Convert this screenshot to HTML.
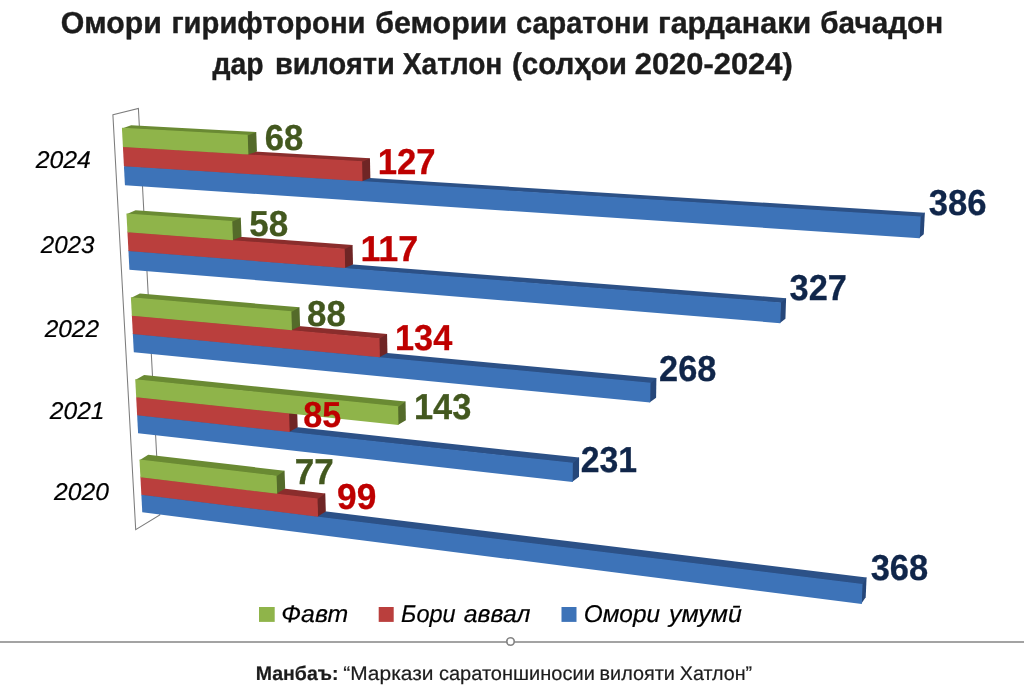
<!DOCTYPE html>
<html lang="tg"><head><meta charset="utf-8"><title>Омори гирифторони бемории саратони гарданаки бачадон</title>
<style>html,body{margin:0;padding:0;background:#fff}body{width:1024px;height:689px;overflow:hidden;font-family:"Liberation Sans",sans-serif}svg{display:block}text{font-family:"Liberation Sans",sans-serif;text-rendering:geometricPrecision}</style>
</head><body>
<svg width="1024" height="689" viewBox="0 0 1024 689">
<rect width="1024" height="689" fill="#fff"/>
<polygon points="112.90,114.80 138.40,108.40 159.80,514.90 135.70,529.70" fill="#fff" stroke="#7c7c7c" stroke-width="1.05" stroke-linejoin="miter"/>
<g>
<polygon points="920.03,215.76 924.15,212.81 924.85,212.81 923.76,234.37 918.95,238.19" fill="#26477A"/>
<polygon points="133.13,163.29 924.85,212.81 920.73,217.16 123.94,166.85" fill="#2C5187"/>
<polygon points="123.94,166.15 920.73,216.46 919.65,238.19 124.95,185.22" fill="#3D73B8"/>
<polygon points="123.94,165.45 362.52,180.52 362.52,181.22 123.94,166.15" fill="#3D73B8"/>
</g>
<g>
<polygon points="361.38,160.54 369.24,158.29 369.94,158.29 370.37,178.12 361.82,181.22" fill="#6F2525"/>
<polygon points="132.15,144.25 369.94,158.29 362.08,161.94 122.93,147.69" fill="#8A2D2C"/>
<polygon points="122.93,146.99 362.08,161.24 362.52,181.22 123.94,166.15" fill="#BA3F3D"/>
<polygon points="122.93,146.29 248.40,153.77 248.40,154.47 122.93,146.99" fill="#BA3F3D"/>
</g>
<g>
<polygon points="246.97,134.08 255.53,132.07 256.23,132.07 256.93,151.62 247.70,154.47" fill="#546B2A"/>
<polygon points="131.16,125.13 256.23,132.07 247.67,135.48 121.91,128.43" fill="#6A8A33"/>
<polygon points="121.91,127.73 247.67,134.78 248.40,154.47 122.93,146.99" fill="#8FB44A"/>
</g>
<g>
<polygon points="780.33,301.72 785.40,298.21 786.10,298.21 785.42,318.82 779.66,323.17" fill="#26477A"/>
<polygon points="137.50,247.59 786.10,298.21 781.03,303.12 128.44,251.72" fill="#2C5187"/>
<polygon points="128.44,251.02 781.03,302.42 780.36,323.17 129.43,269.67" fill="#3D73B8"/>
<polygon points="128.44,250.32 345.16,267.39 345.16,268.09 128.44,251.02" fill="#3D73B8"/>
</g>
<g>
<polygon points="343.98,247.93 351.86,245.09 352.56,245.09 353.01,264.41 344.46,268.09" fill="#6F2525"/>
<polygon points="136.54,228.97 352.56,245.09 344.68,249.33 127.45,232.97" fill="#8A2D2C"/>
<polygon points="127.45,232.27 344.68,248.63 345.16,268.09 128.44,251.02" fill="#BA3F3D"/>
<polygon points="127.45,231.57 233.00,239.52 233.00,240.22 127.45,232.27" fill="#BA3F3D"/>
</g>
<g>
<polygon points="231.54,220.34 240.09,217.75 240.79,217.75 241.51,236.80 232.30,240.22" fill="#546B2A"/>
<polygon points="135.57,210.26 240.79,217.75 232.24,221.74 126.45,214.14" fill="#6A8A33"/>
<polygon points="126.45,213.44 232.24,221.04 233.00,240.22 127.45,232.27" fill="#8FB44A"/>
</g>
<g>
<polygon points="649.82,382.02 655.70,378.04 656.40,378.04 656.09,397.77 649.52,402.58" fill="#26477A"/>
<polygon points="141.77,330.08 656.40,378.04 650.52,383.42 132.84,334.75" fill="#2C5187"/>
<polygon points="132.84,334.05 650.52,382.72 650.22,402.58 133.81,352.30" fill="#3D73B8"/>
<polygon points="132.84,333.35 379.88,356.57 379.88,357.27 132.84,334.05" fill="#3D73B8"/>
</g>
<g>
<polygon points="378.79,337.45 386.37,333.98 387.07,333.98 387.44,352.98 379.18,357.27" fill="#6F2525"/>
<polygon points="140.83,311.86 387.07,333.98 379.49,338.85 131.87,316.41" fill="#8A2D2C"/>
<polygon points="131.87,315.71 379.49,338.15 379.88,357.27 132.84,334.05" fill="#BA3F3D"/>
<polygon points="131.87,315.01 291.97,329.52 291.97,330.22 131.87,315.71" fill="#BA3F3D"/>
</g>
<g>
<polygon points="290.66,310.58 298.78,307.35 299.48,307.35 300.06,326.17 291.27,330.22" fill="#546B2A"/>
<polygon points="139.88,293.55 299.48,307.35 291.36,311.98 130.89,297.98" fill="#6A8A33"/>
<polygon points="130.89,297.28 291.36,311.28 291.97,330.22 131.87,315.71" fill="#8FB44A"/>
</g>
<g>
<polygon points="572.10,462.06 578.41,457.60 579.11,457.60 579.00,476.64 572.00,481.93" fill="#26477A"/>
<polygon points="145.95,410.83 579.11,457.60 572.80,463.46 137.14,416.00" fill="#2C5187"/>
<polygon points="137.14,415.30 572.80,462.76 572.70,481.93 138.09,433.17" fill="#3D73B8"/>
<polygon points="137.14,414.60 289.70,431.22 289.70,431.92 137.14,415.30" fill="#3D73B8"/>
</g>
<g>
<polygon points="288.40,412.80 296.41,408.91 297.11,408.91 297.69,427.21 289.00,431.92" fill="#6F2525"/>
<polygon points="145.03,392.99 297.11,408.91 289.10,414.20 136.19,398.05" fill="#8A2D2C"/>
<polygon points="136.19,397.35 289.10,413.50 289.70,431.92 137.14,415.30" fill="#BA3F3D"/>
<polygon points="136.19,396.65 289.10,412.80 289.10,413.50 136.19,397.35" fill="#BA3F3D"/>
</g>
<g>
<polygon points="397.44,405.52 404.85,401.58 405.55,401.58 405.87,420.30 397.79,425.06" fill="#546B2A"/>
<polygon points="144.10,375.06 405.55,401.58 398.14,406.92 135.24,380.01" fill="#6A8A33"/>
<polygon points="135.24,379.31 398.14,406.22 398.49,425.06 136.19,397.35" fill="#8FB44A"/>
</g>
<g>
<polygon points="861.83,583.33 865.88,577.56 866.58,577.56 865.70,597.30 861.06,603.89" fill="#26477A"/>
<polygon points="150.04,489.87 866.58,577.56 862.53,584.73 141.36,495.54" fill="#2C5187"/>
<polygon points="141.36,494.84 862.53,584.03 861.76,603.89 142.28,512.33" fill="#3D73B8"/>
<polygon points="141.36,494.14 318.06,515.96 318.06,516.66 141.36,494.84" fill="#3D73B8"/>
</g>
<g>
<polygon points="316.83,497.87 324.59,493.41 325.29,493.41 325.80,511.39 317.36,516.66" fill="#6F2525"/>
<polygon points="149.14,472.40 325.29,493.41 317.53,499.27 140.42,477.96" fill="#8A2D2C"/>
<polygon points="140.42,477.26 317.53,498.57 318.06,516.66 141.36,494.84" fill="#BA3F3D"/>
<polygon points="140.42,476.56 277.18,493.01 277.18,493.71 140.42,477.26" fill="#BA3F3D"/>
</g>
<g>
<polygon points="275.85,474.95 283.86,470.68 284.56,470.68 285.17,488.62 276.48,493.71" fill="#546B2A"/>
<polygon points="148.23,454.86 284.56,470.68 276.55,476.35 139.49,460.31" fill="#6A8A33"/>
<polygon points="139.49,459.61 276.55,475.65 277.18,493.71 140.42,477.26" fill="#8FB44A"/>
</g>
<g font-weight="bold" font-size="30.2" stroke-width="0.4">
<text x="60.79" y="33.0" textLength="101.09" lengthAdjust="spacingAndGlyphs" fill="#1c1c1c" stroke="#1c1c1c">Омори</text>
<text x="171.46" y="33.0" textLength="194.06" lengthAdjust="spacingAndGlyphs" fill="#1c1c1c" stroke="#1c1c1c">гирифторони</text>
<text x="375.20" y="33.0" textLength="132.00" lengthAdjust="spacingAndGlyphs" fill="#1c1c1c" stroke="#1c1c1c">бемории</text>
<text x="515.92" y="33.0" textLength="133.32" lengthAdjust="spacingAndGlyphs" fill="#1c1c1c" stroke="#1c1c1c">саратони</text>
<text x="657.98" y="33.0" textLength="153.20" lengthAdjust="spacingAndGlyphs" fill="#1c1c1c" stroke="#1c1c1c">гарданаки</text>
<text x="820.25" y="33.0" textLength="122.95" lengthAdjust="spacingAndGlyphs" fill="#1c1c1c" stroke="#1c1c1c">бачадон</text>
<text x="212.56" y="74.0" textLength="51.09" lengthAdjust="spacingAndGlyphs" fill="#1c1c1c" stroke="#1c1c1c">дар</text>
<text x="274.95" y="74.0" textLength="119.94" lengthAdjust="spacingAndGlyphs" fill="#1c1c1c" stroke="#1c1c1c">вилояти</text>
<text x="402.85" y="74.0" textLength="99.46" lengthAdjust="spacingAndGlyphs" fill="#1c1c1c" stroke="#1c1c1c">Хатлон</text>
<text x="511.97" y="74.0" textLength="115.05" lengthAdjust="spacingAndGlyphs" fill="#1c1c1c" stroke="#1c1c1c">(солҳои</text>
<text x="634.73" y="74.0" textLength="158.02" lengthAdjust="spacingAndGlyphs" fill="#1c1c1c" stroke="#1c1c1c">2020-2024)</text>
</g>
<g font-weight="bold" font-size="36" stroke-width="0.3">
<text x="264.63" y="149.6" textLength="38.51" lengthAdjust="spacingAndGlyphs" fill="#43581F" stroke="#43581F">68</text>
<text x="377.68" y="174.4" textLength="57.92" lengthAdjust="spacingAndGlyphs" fill="#BE0000" stroke="#BE0000">127</text>
<text x="928.66" y="215.4" textLength="57.81" lengthAdjust="spacingAndGlyphs" fill="#10264A" stroke="#10264A">386</text>
<text x="249.18" y="235.7" textLength="38.96" lengthAdjust="spacingAndGlyphs" fill="#43581F" stroke="#43581F">58</text>
<text x="360.39" y="261.2" textLength="57.93" lengthAdjust="spacingAndGlyphs" fill="#BE0000" stroke="#BE0000">117</text>
<text x="789.59" y="299.7" textLength="57.34" lengthAdjust="spacingAndGlyphs" fill="#10264A" stroke="#10264A">327</text>
<text x="307.07" y="325.7" textLength="38.70" lengthAdjust="spacingAndGlyphs" fill="#43581F" stroke="#43581F">88</text>
<text x="395.03" y="349.8" textLength="57.22" lengthAdjust="spacingAndGlyphs" fill="#BE0000" stroke="#BE0000">134</text>
<text x="659.12" y="380.9" textLength="57.22" lengthAdjust="spacingAndGlyphs" fill="#10264A" stroke="#10264A">268</text>
<text x="413.92" y="419.1" textLength="57.35" lengthAdjust="spacingAndGlyphs" fill="#43581F" stroke="#43581F">143</text>
<text x="303.27" y="426.7" textLength="37.95" lengthAdjust="spacingAndGlyphs" fill="#BE0000" stroke="#BE0000">85</text>
<text x="580.67" y="472.1" textLength="56.37" lengthAdjust="spacingAndGlyphs" fill="#10264A" stroke="#10264A">231</text>
<text x="294.85" y="484.1" textLength="38.97" lengthAdjust="spacingAndGlyphs" fill="#43581F" stroke="#43581F">77</text>
<text x="337.11" y="508.8" textLength="39.21" lengthAdjust="spacingAndGlyphs" fill="#BE0000" stroke="#BE0000">99</text>
<text x="870.71" y="579.7" textLength="57.50" lengthAdjust="spacingAndGlyphs" fill="#10264A" stroke="#10264A">368</text>
</g>
<g font-style="italic" font-size="24.2" stroke-width="0.2">
<text x="35.69" y="167.9" textLength="55.12" lengthAdjust="spacingAndGlyphs" fill="#000" stroke="#000">2024</text>
<text x="40.76" y="253.1" textLength="53.70" lengthAdjust="spacingAndGlyphs" fill="#000" stroke="#000">2023</text>
<text x="44.65" y="336.9" textLength="54.43" lengthAdjust="spacingAndGlyphs" fill="#000" stroke="#000">2022</text>
<text x="49.75" y="419.1" textLength="54.81" lengthAdjust="spacingAndGlyphs" fill="#000" stroke="#000">2021</text>
<text x="54.09" y="499.8" textLength="54.75" lengthAdjust="spacingAndGlyphs" fill="#000" stroke="#000">2020</text>
</g>
<g font-style="italic" font-size="24.2" stroke-width="0.2">
<text x="281.35" y="622.2" textLength="66.97" lengthAdjust="spacingAndGlyphs" fill="#000" stroke="#000">Фавт</text>
<text x="401.11" y="622.2" textLength="54.44" lengthAdjust="spacingAndGlyphs" fill="#000" stroke="#000">Бори</text>
<text x="463.85" y="622.2" textLength="66.57" lengthAdjust="spacingAndGlyphs" fill="#000" stroke="#000">аввал</text>
<text x="583.70" y="622.2" textLength="76.30" lengthAdjust="spacingAndGlyphs" fill="#000" stroke="#000">Омори</text>
<text x="668.93" y="622.2" textLength="72.96" lengthAdjust="spacingAndGlyphs" fill="#000" stroke="#000">умумӣ</text>
</g>
<g font-weight="bold" font-size="19.7" stroke-width="0.2">
<text x="255.67" y="679.6" textLength="82.82" lengthAdjust="spacingAndGlyphs" fill="#1c1c1c" stroke="#1c1c1c">Манбаъ:</text>
</g>
<g font-size="19.7" stroke-width="0.2">
<text x="343.25" y="679.6" textLength="90.17" lengthAdjust="spacingAndGlyphs" fill="#1c1c1c" stroke="#1c1c1c">“Маркази</text>
<text x="438.91" y="679.6" textLength="155.92" lengthAdjust="spacingAndGlyphs" fill="#1c1c1c" stroke="#1c1c1c">саратоншиносии</text>
<text x="599.57" y="679.6" textLength="75.28" lengthAdjust="spacingAndGlyphs" fill="#1c1c1c" stroke="#1c1c1c">вилояти</text>
<text x="679.77" y="679.6" textLength="72.32" lengthAdjust="spacingAndGlyphs" fill="#1c1c1c" stroke="#1c1c1c">Хатлон”</text>
</g>
<rect x="259" y="607" width="15.7" height="14.9" fill="#8FB44A"/>
<rect x="378.7" y="607" width="15" height="14.9" fill="#BA3F3D"/>
<rect x="561.5" y="607" width="15" height="14.9" fill="#3D73B8"/>
<line x1="0" y1="641.9" x2="1024" y2="641.9" stroke="#848484" stroke-width="1.5"/>
<circle cx="510.5" cy="641.5" r="3.75" fill="#fff" stroke="#848484" stroke-width="1.7"/>
</svg>
</body></html>
